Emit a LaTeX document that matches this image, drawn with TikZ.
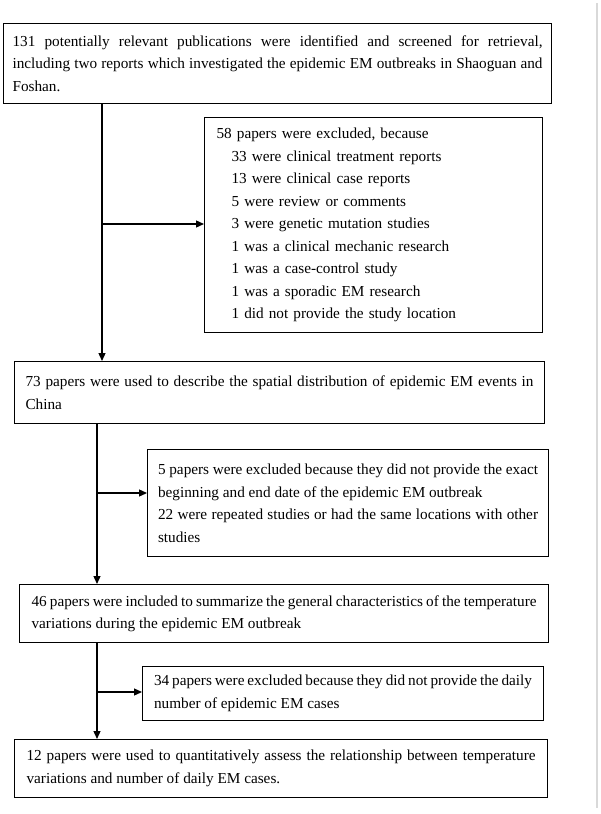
\documentclass[tikz,border=0pt]{standalone}
\usepackage{fontspec}
\setmainfont{Liberation Serif}
\usetikzlibrary{arrows.meta}
\hyphenpenalty=10000
\exhyphenpenalty=10000

\begin{document}
\begin{tikzpicture}[x=1pt, y=-1pt,
  box/.style={draw, line width=1.1pt, anchor=north west, inner ysep=0pt, align=justify,
    font=\fontsize{15.25}{22.5}\selectfont},
  flow/.style={line width=1.3pt, -{Triangle[length=8pt,width=7pt]}}]
  \useasboundingbox (0,0) rectangle (600,814);
  \draw[gray!30, line width=1.2pt] (597,3) -- (597,808);

  \node[box, text width=530pt, inner xsep=9pt, minimum height=80pt] (found) at (3,23)
    {131 potentially relevant publications were identified and screened for retrieval, including two reports which investigated the epidemic EM outbreaks in Shaoguan and Foshan.};
  \node[box, align=left, text width=314pt, inner xsep=12pt, minimum height=215pt] (excla) at (204,117)
    {58 papers were excluded, because\\
     \hspace*{15pt}33 were clinical treatment reports\\
     \hspace*{15pt}13 were clinical case reports\\
     \hspace*{15pt}5 were review or comments\\
     \hspace*{15pt}3 were genetic mutation studies\\
     \hspace*{15pt}1 was a clinical mechanic research\\
     \hspace*{15pt}1 was a case-control study\\
     \hspace*{15pt}1 was a sporadic EM research\\
     \hspace*{15pt}1 did not provide the study location};
  \node[box, text width=508pt, inner xsep=11pt, minimum height=62pt] (spatial) at (14,361)
    {73 papers were used to describe the spatial distribution of epidemic EM events in China};
  \node[box, text width=380pt, inner xsep=10.5pt, minimum height=107pt] (exclb) at (147,449)
    {5 papers were excluded because they did not provide the exact beginning and end date of the epidemic EM outbreak\\
     22 were repeated studies or had the same locations with other studies};
  \node[box, text width=505pt, inner xsep=12pt, minimum height=58pt] (summary) at (19,584)
    {46 papers were included to summarize the general characteristics of the temperature variations during the epidemic EM outbreak};
  \node[box, text width=378pt, inner xsep=11.5pt, minimum height=54pt] (exclc) at (142,666)
    {34 papers were excluded because they did not provide the daily number of epidemic EM cases};
  \node[box, text width=509pt, inner xsep=12pt, minimum height=58pt] (quant) at (14,739)
    {12 papers were used to quantitatively assess the relationship between temperature variations and number of daily EM cases.};

  \coordinate (ja) at (102,224);
  \coordinate (jb) at (97,493);
  \coordinate (jc) at (97,692);
  \draw[flow] (found.south -| ja) -- (spatial.north -| ja);
  \draw[flow] (ja) -- (excla.west |- ja);
  \draw[flow] (spatial.south -| jb) -- (summary.north -| jb);
  \draw[flow] (jb) -- (exclb.west |- jb);
  \draw[flow] (summary.south -| jc) -- (quant.north -| jc);
  \draw[flow] (jc) -- (exclc.west |- jc);
\end{tikzpicture}
\end{document}
